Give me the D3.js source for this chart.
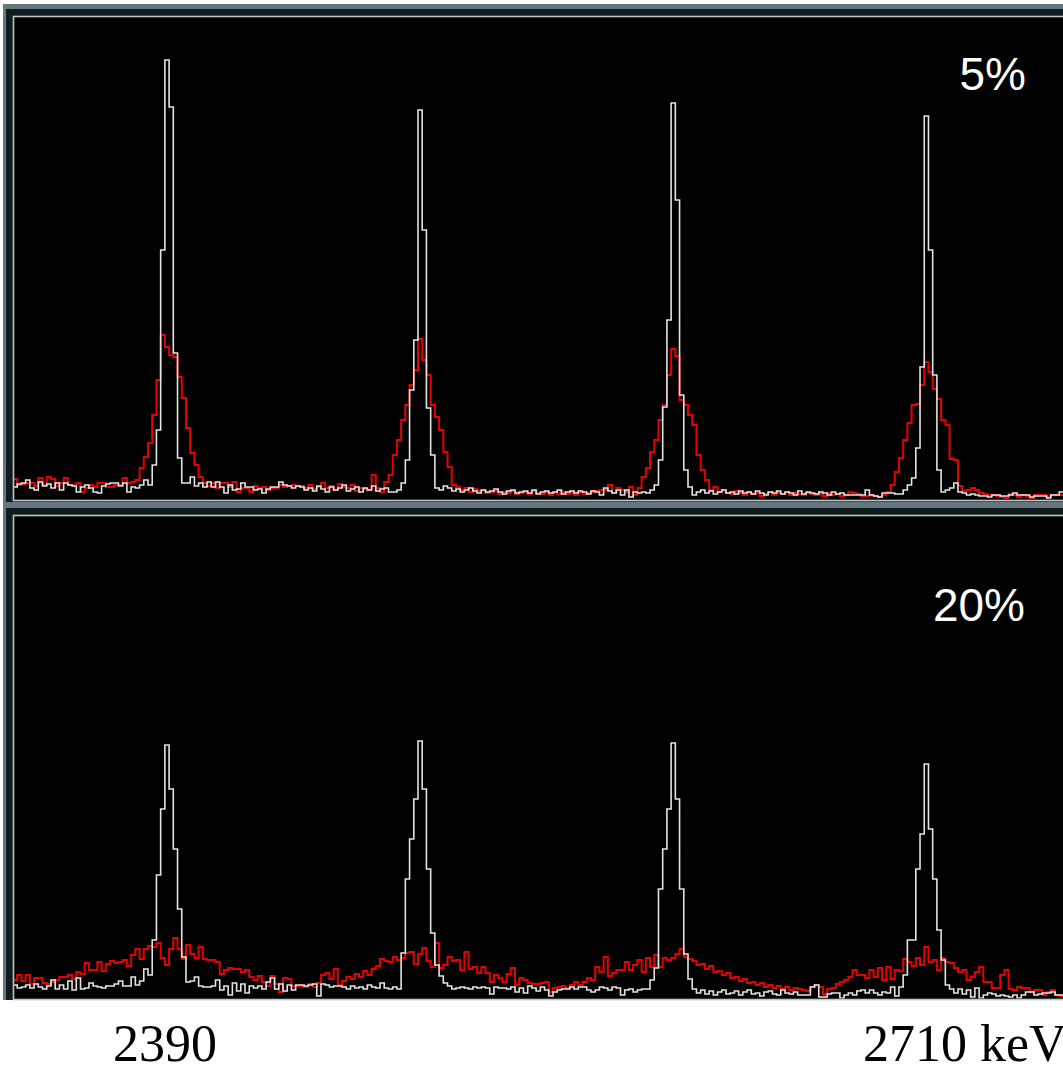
<!DOCTYPE html>
<html>
<head>
<meta charset="utf-8">
<script src="https://cdn.jsdelivr.net/npm/d3@7"></script>
<style>
  html, body { margin: 0; padding: 0; background: #ffffff; overflow: hidden; }
  svg { display: block; }
</style>
</head>
<body>
<svg id="chart" width="1063" height="1065"></svg>
<script>
// Spectrum binning: 249 channels of 1.8 keV starting at 2325.2 keV
const binStart = 2325.2;
const binWidth = 1.8;

// Panel 1 (5%): white = reference spectrum, red = smeared spectrum (counts per channel)
const topWhite = [
  13, 16, 17, 20, 12, 10, 18, 14, 16, 12,
  17, 10, 17, 15, 14, 8, 13, 15, 12, 8,
  7, 14, 16, 17, 17, 14, 17, 8, 13, 12,
  15, 20, 15, 35, 70, 250, 440, 393, 147, 42,
  17, 17, 23, 14, 17, 13, 18, 13, 18, 13,
  7, 15, 10, 11, 17, 13, 13, 10, 11, 7,
  11, 13, 13, 18, 15, 14, 12, 14, 13, 10,
  12, 9, 14, 11, 8, 13, 10, 12, 15, 9,
  11, 13, 8, 12, 10, 14, 9, 11, 12, 8,
  8, 10, 17, 40, 110, 160, 390, 270, 92, 45,
  12, 10, 14, 12, 9, 11, 8, 10, 12, 9,
  7, 10, 8, 9, 11, 8, 6, 9, 10, 7,
  8, 9, 7, 10, 6, 8, 9, 7, 8, 10,
  6, 8, 9, 7, 9, 8, 6, 9, 8, 5,
  12, 9, 7, 10, 5, 10, 3, 8, 7, 8,
  7, 10, 15, 40, 93, 180, 397, 300, 105, 30,
  13, 5, 8, 10, 7, 9, 6, 8, 10, 7,
  8, 6, 9, 7, 8, 6, 9, 7, 5, 8,
  7, 9, 6, 8, 7, 5, 9, 6, 8, 7,
  6, 8, 7, 5, 8, 6, 7, 5, 5, 5,
  5, 5, 10, 5, 4, 3, 7, 7, 7, 6,
  6, 10, 15, 22, 52, 133, 384, 250, 125, 30,
  8, 10, 12, 17, 8, 7, 5, 6, 5, 4,
  4, 3, 5, 5, 4, 4, 5, 7, 5, 5,
  5, 3, 4, 4, 4, 2, 5, 5, 8
];
const topRed = [
  21, 15, 16, 17, 17, 14, 22, 15, 23, 21,
  14, 17, 22, 15, 15, 17, 8, 12, 15, 13,
  17, 17, 13, 13, 15, 15, 22, 17, 18, 20,
  32, 43, 57, 85, 120, 165, 153, 145, 143, 123,
  102, 72, 47, 35, 23, 17, 14, 17, 12, 17,
  17, 13, 18, 8, 12, 12, 8, 14, 12, 13,
  10, 12, 12, 15, 13, 14, 15, 14, 14, 12,
  15, 11, 13, 17, 12, 14, 10, 16, 13, 12,
  15, 9, 12, 11, 10, 25, 12, 8, 18, 25,
  45, 60, 80, 95, 115, 130, 161, 140, 125, 95,
  83, 70, 48, 33, 15, 13, 10, 12, 8, 11,
  9, 10, 7, 8, 9, 6, 8, 7, 9, 6,
  7, 8, 6, 9, 7, 6, 8, 5, 7, 6,
  8, 6, 7, 5, 8, 6, 7, 8, 9, 10,
  10, 15, 7, 12, 10, 8, 13, 5, 12, 23,
  32, 48, 60, 80, 95, 125, 151, 144, 100, 95,
  85, 75, 45, 30, 20, 10, 13, 8, 10, 7,
  6, 9, 7, 5, 8, 6, 7, 4, 6, 8,
  5, 7, 6, 8, 5, 7, 6, 5, 7, 6,
  5, 6, 4, 7, 5, 6, 4, 5, 8, 7,
  6, 4, 4, 5, 4, 3, 5, 8, 15, 28,
  42, 60, 77, 95, 96, 115, 138, 128, 111, 101,
  80, 75, 41, 40, 14, 9, 10, 12, 10, 7,
  6, 5, 5, 4, 3, 2, 6, 5, 3, 5,
  4, 2, 5, 5, 5, 3, 5, 5, 5
];

// Panel 2 (20%)
const bottomWhite = [
  14, 11, 12, 14, 11, 15, 12, 10, 13, 19,
  10, 14, 10, 18, 9, 21, 10, 11, 16, 13,
  12, 11, 13, 13, 15, 18, 13, 13, 22, 14,
  18, 30, 24, 59, 124, 190, 254, 210, 150, 90,
  42, 17, 18, 22, 13, 12, 12, 13, 19, 9,
  13, 4, 16, 8, 15, 6, 13, 11, 13, 10,
  17, 21, 10, 15, 8, 14, 9, 14, 14, 13,
  14, 15, 3, 15, 14, 12, 13, 13, 12, 10,
  13, 11, 12, 10, 14, 12, 11, 16, 11, 10,
  12, 10, 46, 120, 160, 200, 258, 210, 130, 66,
  34, 23, 16, 13, 10, 11, 12, 11, 10, 12,
  11, 12, 11, 5, 12, 11, 11, 10, 12, 7,
  11, 6, 13, 11, 8, 12, 9, 3, 7, 9,
  10, 10, 12, 10, 12, 12, 9, 7, 9, 12,
  11, 9, 12, 11, 4, 9, 10, 7, 9, 10,
  10, 19, 31, 110, 150, 190, 256, 200, 110, 45,
  20, 10, 6, 9, 5, 8, 4, 7, 9, 5,
  6, 8, 4, 7, 9, 5, 6, 3, 7, 8,
  5, 4, 9, 6, 5, 7, 4, 4, 4, 12,
  14, 2, 2, 5, 6, 6, 1, 4, 6, 4,
  8, 9, 6, 9, 6, 4, 7, 6, 12, 3,
  12, 24, 59, 59, 130, 165, 235, 170, 120, 69,
  39, 14, 10, 6, 10, 5, 9, 2, 11, 1,
  4, 6, 5, 3, 4, 3, 2, 4, 1, 4,
  7, 7, 4, 5, 6, 6, 7, 4, 4
];
const bottomRed = [
  19, 24, 18, 24, 15, 21, 21, 16, 15, 17,
  19, 22, 22, 24, 20, 27, 25, 36, 29, 29,
  37, 28, 35, 38, 36, 37, 39, 33, 44, 50,
  40, 50, 53, 52, 56, 41, 34, 50, 61, 50,
  40, 54, 45, 41, 52, 40, 39, 39, 37, 25,
  29, 31, 30, 30, 27, 29, 22, 19, 23, 17,
  13, 23, 15, 7, 21, 20, 13, 13, 13, 12,
  15, 12, 16, 24, 26, 20, 30, 14, 18, 22,
  20, 25, 22, 28, 24, 30, 33, 40, 38, 37,
  42, 39, 41, 46, 47, 35, 45, 51, 38, 32,
  56, 31, 34, 42, 38, 39, 29, 47, 30, 32,
  26, 32, 26, 17, 24, 21, 17, 25, 31, 14,
  21, 19, 16, 15, 15, 16, 17, 7, 11, 12,
  13, 11, 14, 17, 14, 17, 21, 19, 32, 27,
  42, 23, 26, 29, 29, 37, 29, 34, 39, 27,
  41, 32, 44, 32, 41, 39, 41, 45, 50, 42,
  40, 38, 34, 35, 30, 33, 27, 28, 24, 26,
  21, 22, 18, 20, 16, 17, 14, 16, 12, 14,
  11, 13, 10, 12, 9, 11, 10, 9, 8, 12,
  14, 12, 5, 10, 11, 15, 17, 19, 22, 29,
  24, 24, 21, 29, 22, 31, 19, 32, 20, 29,
  28, 40, 37, 33, 41, 34, 52, 37, 39, 29,
  41, 37, 36, 31, 27, 29, 19, 22, 27, 32,
  17, 17, 11, 11, 24, 29, 10, 9, 12, 11,
  11, 7, 9, 9, 4, 7, 9, 4, 3
];

// Panel labels and energy labels under the plot
const panelLabels = ["5%", "20%"];
const energyLabels = [
  { energy: 2390, text: "2390", unit: "" },
  { energy: 2710, text: "2710", unit: " keV" }
];
const countMax = 480;

const svg = d3.select("#chart");
const W = 1063;

const binEnd = binStart + binWidth * topWhite.length;
const x = d3.scaleLinear().domain([binStart, binEnd]).range([13, 13 + 4.21875 * topWhite.length]);

const panels = [
  { label: panelLabels[0], white: topWhite, red: topRed, top: 16, bottom: 500, frameTop: 4, darkTop: 9, darkBottom: 502, labelY: 90, labelX: 1026 },
  { label: panelLabels[1], white: bottomWhite, red: bottomRed, top: 515, bottom: 999, frameTop: 502, darkTop: 508, darkBottom: 1000, labelY: 621, labelX: 1025 }
];

const bandColor = "#66767f";
const darkColor = "#0f1d20";

panels.forEach((p, k) => {
  const g = svg.append("g");
  // window frame: blue-grey band, dark margin, light inner border
  g.append("rect").attr("x", 3).attr("y", p.frameTop).attr("width", W).attr("height", p.darkBottom - p.frameTop)
    .attr("fill", bandColor);
  g.append("rect").attr("x", 6).attr("y", p.darkTop).attr("width", W).attr("height", p.darkBottom - p.darkTop)
    .attr("fill", darkColor);
  g.append("rect").attr("x", 13).attr("y", p.top).attr("width", W).attr("height", p.bottom - p.top)
    .attr("fill", "#000000");

  const y = d3.scaleLinear().domain([0, countMax]).range([p.bottom, p.top + 4]);

  const clipId = "clip" + k;
  svg.append("clipPath").attr("id", clipId)
    .append("rect").attr("x", 14).attr("y", p.top + 1).attr("width", W).attr("height", p.bottom - p.top - 1.5);

  const stepLine = d3.line()
    .x(d => x(d.e))
    .y(d => y(d.c))
    .curve(d3.curveStepAfter);

  const toPoints = arr => {
    const pts = arr.map((c, i) => ({ e: binStart + i * binWidth, c }));
    pts.push({ e: binStart + arr.length * binWidth, c: arr[arr.length - 1] });
    return pts;
  };

  const plot = g.append("g").attr("clip-path", `url(#${clipId})`);
  plot.append("path").datum(toPoints(p.red))
    .attr("d", stepLine).attr("fill", "none")
    .attr("stroke", "#e60000").attr("stroke-width", 2).attr("stroke-linejoin", "miter");
  plot.append("path").datum(toPoints(p.white))
    .attr("d", stepLine).attr("fill", "none")
    .attr("stroke", "#e4e4e4").attr("stroke-width", 1.6).attr("stroke-linejoin", "miter");

  // inner border line
  g.append("rect").attr("x", 13.5).attr("y", p.top + 0.5).attr("width", W).attr("height", p.bottom - p.top)
    .attr("fill", "none").attr("stroke", "#c4c4c4").attr("stroke-width", 1.6);

  g.append("text")
    .attr("x", p.labelX).attr("y", p.labelY)
    .attr("text-anchor", "end")
    .attr("font-family", "'Liberation Sans', Arial, sans-serif")
    .attr("font-size", 46)
    .attr("fill", "#ffffff")
    .text(p.label);
});

// energy labels below the spectra, number centred on its energy
energyLabels.forEach(l => {
  const t = svg.append("text")
    .attr("y", 1061)
    .attr("font-family", "'Liberation Serif', 'Times New Roman', serif")
    .attr("font-size", 52)
    .attr("fill", "#000000");
  const num = t.append("tspan").text(l.text);
  if (l.unit) t.append("tspan").text(l.unit);
  const w = num.node().getComputedTextLength();
  t.attr("x", x(l.energy) - w / 2);
});
</script>
</body>
</html>
